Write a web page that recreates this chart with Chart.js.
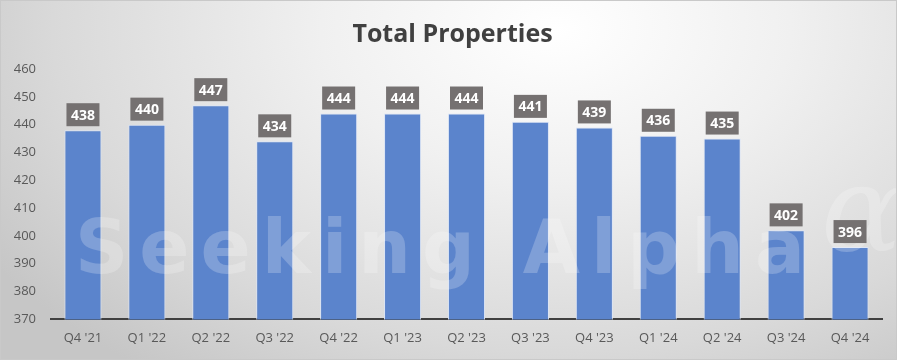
<!DOCTYPE html>
<html>
<head>
<meta charset="utf-8">
<script src="https://cdn.jsdelivr.net/npm/chart.js@4.4.1/dist/chart.umd.min.js"></script>
<style>
  html, body { margin: 0; padding: 0; }
  body { width: 897px; height: 360px; overflow: hidden; }
  #wrap {
    position: relative; width: 895px; height: 358px;
    border: 1px solid #c9c9c9;
    background: radial-gradient(ellipse 75% 120% at 62% 8%, #ffffff 0%, #f0f0f0 35%, #d9d9d9 75%, #c6c6c6 100%);
  }
</style>
</head>
<body>
<div id="wrap"><canvas id="chart" width="895" height="358"></canvas></div>
<script>
const quarters = ["Q4 '21", "Q1 '22", "Q2 '22", "Q3 '22", "Q4 '22", "Q1 '23", "Q2 '23", "Q3 '23", "Q4 '23", "Q1 '24", "Q2 '24", "Q3 '24", "Q4 '24"];
const totalProperties = [438, 440, 447, 434, 444, 444, 444, 441, 439, 436, 435, 402, 396];
const yMin = 370, yMax = 460, yStep = 10;

// boxed value labels above each bar
const boxLabels = {
    id: 'boxLabels',
    afterDatasetsDraw(chart) {
        const ctx = chart.ctx;
        const meta = chart.getDatasetMeta(0);
        ctx.save();
        ctx.font = 'bold 14px "Open Sans", sans-serif';
        ctx.textAlign = 'center';
        ctx.textBaseline = 'middle';
        meta.data.forEach((bar, i) => {
            const txt = String(totalProperties[i]);
            const w = 33, h = 23;
            const cy = bar.y - 4 - h / 2;
            ctx.fillStyle = '#757171';
            ctx.fillRect(bar.x - w / 2, cy - h / 2, w, h);
            ctx.fillStyle = '#ffffff';
            ctx.fillText(txt, bar.x, cy + 1);
        });
        ctx.restore();
    }
};

// faint watermark over the bars
const watermark = {
    id: 'watermark',
    afterDatasetsDraw(chart) {
        const ctx = chart.ctx;
        ctx.save();
        ctx.font = 'bold 74px "DejaVu Sans", sans-serif';
        ctx.letterSpacing = '11px';
        ctx.fillStyle = 'rgba(255,255,255,0.22)';
        ctx.textBaseline = 'alphabetic';
        ctx.fillText('Seeking Alpha', 74, 272);
        ctx.letterSpacing = '0px';
        ctx.font = 'italic 120px "DejaVu Serif", serif';
        ctx.fillText('\u03B1', 820, 250);
        ctx.restore();
    }
};

// title is centred a little right of the canvas middle
const shiftTitle = {
    id: 'shiftTitle',
    afterLayout(chart) {
        if (chart.titleBlock) chart.titleBlock.left += 22;
    }
};

new Chart(document.getElementById('chart'), {
    type: 'bar',
    data: {
        labels: quarters,
        datasets: [{
            data: totalProperties,
            backgroundColor: '#5b84cc',
            borderColor: '#dbe4f5',
            borderWidth: 1,
            categoryPercentage: 1,
            barPercentage: 0.58
        }]
    },
    options: {
        responsive: false,
        animation: false,
        layout: { padding: { left: 0, right: 14, top: 19, bottom: 10 } },
        plugins: {
            legend: { display: false },
            tooltip: { enabled: false },
            title: {
                display: true,
                text: 'Total Properties',
                color: '#404040',
                font: { family: '"Open Sans", sans-serif', size: 25, weight: 'bold' },
                padding: { top: 0, bottom: 19 }
            }
        },
        scales: {
            y: {
                min: yMin, max: yMax,
                ticks: { stepSize: yStep, color: '#595959', font: { family: '"Open Sans", sans-serif', size: 13 }, padding: 7 },
                grid: { display: false },
                border: { display: false },
                afterFit(scale) { scale.width = 50; }
            },
            x: {
                ticks: { color: '#595959', font: { family: '"Open Sans", sans-serif', size: 13 }, padding: 3 },
                grid: { display: false },
                border: { display: true, color: '#404040', width: 2 }
            }
        }
    },
    plugins: [shiftTitle, watermark, boxLabels]
});
</script>
</body>
</html>
